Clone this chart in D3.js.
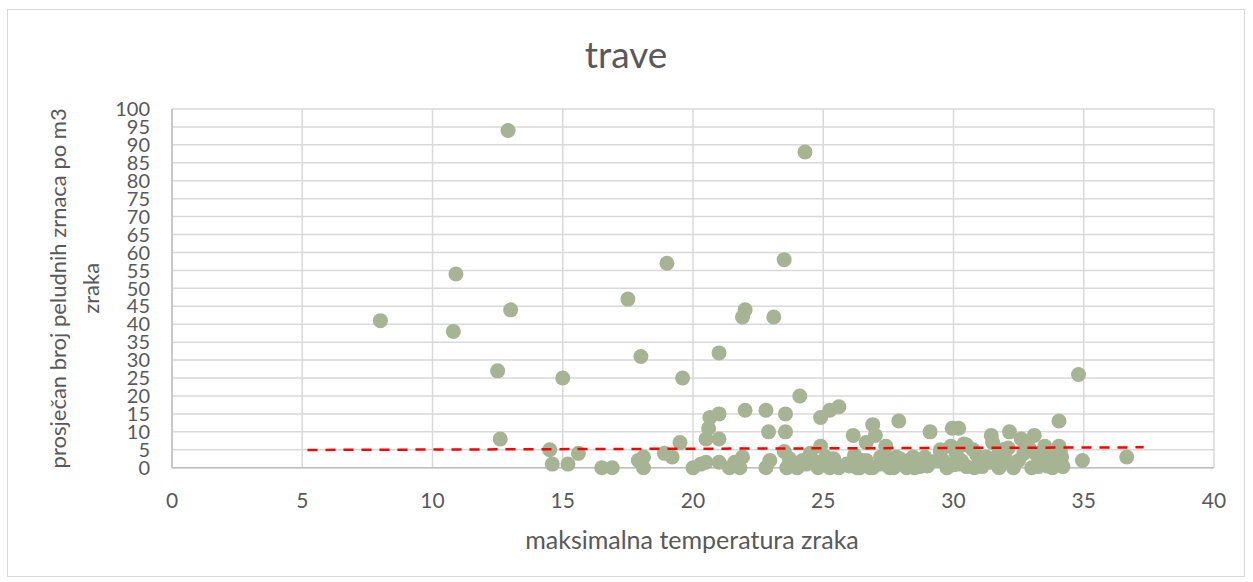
<!DOCTYPE html>
<html>
<head>
<meta charset="utf-8">
<script src="https://cdn.jsdelivr.net/npm/d3@7"></script>
<style>
  body { margin: 0; background: #fff; }
  text { font-family: Lato, "Open Sans", sans-serif; fill: #595959; }
</style>
</head>
<body>
<svg id="chart" width="1253" height="582"></svg>
<script>
const WIDTH = 1253
const HEIGHT = 582

// maximalna temperatura zraka (x) and pollen count (y)
const maxTemp = [
    8, 10.8, 10.9, 12.5, 12.6, 12.9, 13.0, 14.5, 14.6, 15.0, 15.2, 15.6, 16.5, 16.9, 17.5, 18.0,
    17.9, 18.1, 18.1, 18.9, 19.2, 19.0, 19.6, 19.5, 20.0, 20.3, 20.5, 20.5, 21.0, 20.6, 20.65, 21.0,
    21.0, 21.0, 21.4, 21.8, 21.6, 21.9, 22.0, 21.9, 22.0, 22.8, 22.9, 23.1, 23.5, 23.55, 23.55, 24.1,
    24.3, 22.95, 22.8, 23.5, 23.7, 23.6, 24.0, 24.2, 24.5, 24.75, 24.9, 24.9, 25.25, 25.6, 25.1, 25.4,
    25.25, 25.6, 25.9, 26.15, 26.2, 26.4, 26.65, 26.9, 27.0, 26.65, 26.9, 27.2, 27.4, 27.55, 27.9, 27.8,
    27.7, 27.55, 27.95, 28.45, 28.2, 28.7, 29.1, 29.35, 29.5, 29.75, 29.9, 29.1, 29.95, 30.2, 30.3, 30.5,
    30.75, 31.0, 31.25, 31.45, 31.5, 31.75, 31.9, 32.15, 32.3, 32.6, 32.8, 33.0, 33.1, 33.3, 33.5, 33.8,
    34.05, 34.05, 34.15, 34.2, 34.95, 36.65, 34.8, 30.9, 31.1, 31.7, 32.1, 32.5, 32.9, 33.2, 33.4, 33.75,
    33.25, 30.0, 29.6, 30.8, 30.4, 24.35, 24.6, 23.97, 23.65, 26.2, 26.5, 26.3, 26.8, 27.4, 27.7, 28.4,
    28.5, 29.5, 30.2, 30.1, 26.0, 24.8, 25.0, 29.0, 30.5, 31.4, 32.0, 32.7, 33.6, 34.1, 28.9, 27.2
]
const pollen = [
    41, 38, 54, 27, 8, 94, 44, 5, 1, 25, 1, 4, 0, 0, 47, 31,
    2, 3, 0, 4, 3, 57, 25, 7, 0, 1, 1.5, 8, 8, 11, 14, 15,
    1.5, 32, 0, 0, 1.5, 3, 16, 42, 44, 16, 10, 42, 58, 15, 10, 20,
    88, 2, 0, 4.5, 2.5, 0, 0, 2, 4, 1, 6, 14, 16, 17, 3, 2.5,
    0, 0, 1, 9, 2, 0, 7, 12, 9, 2, 0, 3, 6, 0, 13, 3,
    0, 2, 2.5, 3, 0, 0.3, 1.5, 2, 4.5, 0, 6, 10, 11, 11, 2, 6.3,
    5, 1, 3, 9, 7, 0, 5, 10, 0, 8, 6, 0, 9, 2, 6, 0,
    6, 13, 3, 0.3, 2, 3, 26, 3.5, 0.3, 3.5, 5.5, 2, 5.5, 3.5, 1.5, 3.5,
    0.3, 0.8, 2, 0, 6.6, 1, 2, 1.2, 0.3, 3.5, 2, 0, 0, 3, 2.5, 2.5,
    0, 5, 1, 4, 0.5, 0, 2, 0.5, 0.3, 1.5, 2.5, 4, 0.5, 4.5, 3, 1
]

// linear trend line end points
const trendX = [5.2, 37.3]
const trendY = [4.95, 5.68]

const xTicks = d3.range(0, 41, 5)
const yTicks = d3.range(0, 101, 5)

const margin = {left: 172, right: WIDTH - 1214, top: 109, bottom: HEIGHT - 467.7}

const svg = d3.select("#chart")

// chart border
svg.append("rect")
    .attr("x", 7.5)
    .attr("y", 9.5)
    .attr("width", 1237)
    .attr("height", 567)
    .attr("fill", "#fff")
    .attr("stroke", "#d9d9d9")
    .attr("stroke-width", 1)

const x = d3.scaleLinear()
    .domain([0, 40])
    .range([margin.left, WIDTH - margin.right])

const y = d3.scaleLinear()
    .domain([0, 100])
    .range([HEIGHT - margin.bottom, margin.top])

// gridlines
svg.append("g")
    .selectAll("line")
    .data(yTicks)
    .join("line")
    .attr("x1", x(0))
    .attr("x2", x(40))
    .attr("y1", d => y(d))
    .attr("y2", d => y(d))
    .attr("stroke", "#d9d9d9")
    .attr("stroke-width", 1.5)

svg.append("g")
    .selectAll("line")
    .data(xTicks)
    .join("line")
    .attr("x1", d => x(d))
    .attr("x2", d => x(d))
    .attr("y1", y(0))
    .attr("y2", y(100))
    .attr("stroke", "#d9d9d9")
    .attr("stroke-width", 1.5)

// axis lines
svg.append("line")
    .attr("x1", x(0)).attr("x2", x(40))
    .attr("y1", y(0)).attr("y2", y(0))
    .attr("stroke", "#bfbfbf").attr("stroke-width", 1.5)
svg.append("line")
    .attr("x1", x(0)).attr("x2", x(0))
    .attr("y1", y(0)).attr("y2", y(100))
    .attr("stroke", "#bfbfbf").attr("stroke-width", 1.5)

// tick labels
svg.append("g")
    .selectAll("text")
    .data(yTicks)
    .join("text")
    .attr("x", 150)
    .attr("y", d => y(d))
    .attr("dy", "0.36em")
    .attr("text-anchor", "end")
    .attr("font-size", 20)
    .text(d => d)

svg.append("g")
    .selectAll("text")
    .data(xTicks)
    .join("text")
    .attr("x", d => x(d))
    .attr("y", 500)
    .attr("dy", "0.36em")
    .attr("text-anchor", "middle")
    .attr("font-size", 21)
    .text(d => d)

// points
const points = maxTemp.map((t, i) => ({t: t, p: pollen[i]}))

svg.append("g")
    .selectAll("circle")
    .data(points)
    .join("circle")
    .attr("cx", d => x(d.t))
    .attr("cy", d => y(d.p))
    .attr("r", 7.5)
    .attr("fill", "#a6b493")

// trend line
const line = d3.line()
    .x(d => x(d[0]))
    .y(d => y(d[1]))

svg.append("path")
    .datum(trendX.map((v, i) => [v, trendY[i]]))
    .attr("d", line)
    .attr("fill", "none")
    .attr("stroke", "#ff0000")
    .attr("stroke-width", 2.5)
    .attr("stroke-dasharray", "10,8")

// titles
svg.append("text")
    .attr("x", 626)
    .attr("y", 55)
    .attr("dy", "0.36em")
    .attr("text-anchor", "middle")
    .attr("font-size", 37)
    .text("trave")

svg.append("text")
    .attr("x", 692)
    .attr("y", 540)
    .attr("dy", "0.36em")
    .attr("text-anchor", "middle")
    .attr("font-size", 25)
    .text("maksimalna temperatura zraka")

const yTitle = svg.append("text")
    .attr("transform", `translate(58, ${y(50)}) rotate(-90)`)
    .attr("text-anchor", "middle")
    .attr("font-size", 22)

yTitle.append("tspan")
    .attr("x", 0)
    .attr("dy", "0.36em")
    .text("prosječan broj peludnih zrnaca po m3")
yTitle.append("tspan")
    .attr("x", 0)
    .attr("dy", "1.5em")
    .text("zraka")
</script>
</body>
</html>
